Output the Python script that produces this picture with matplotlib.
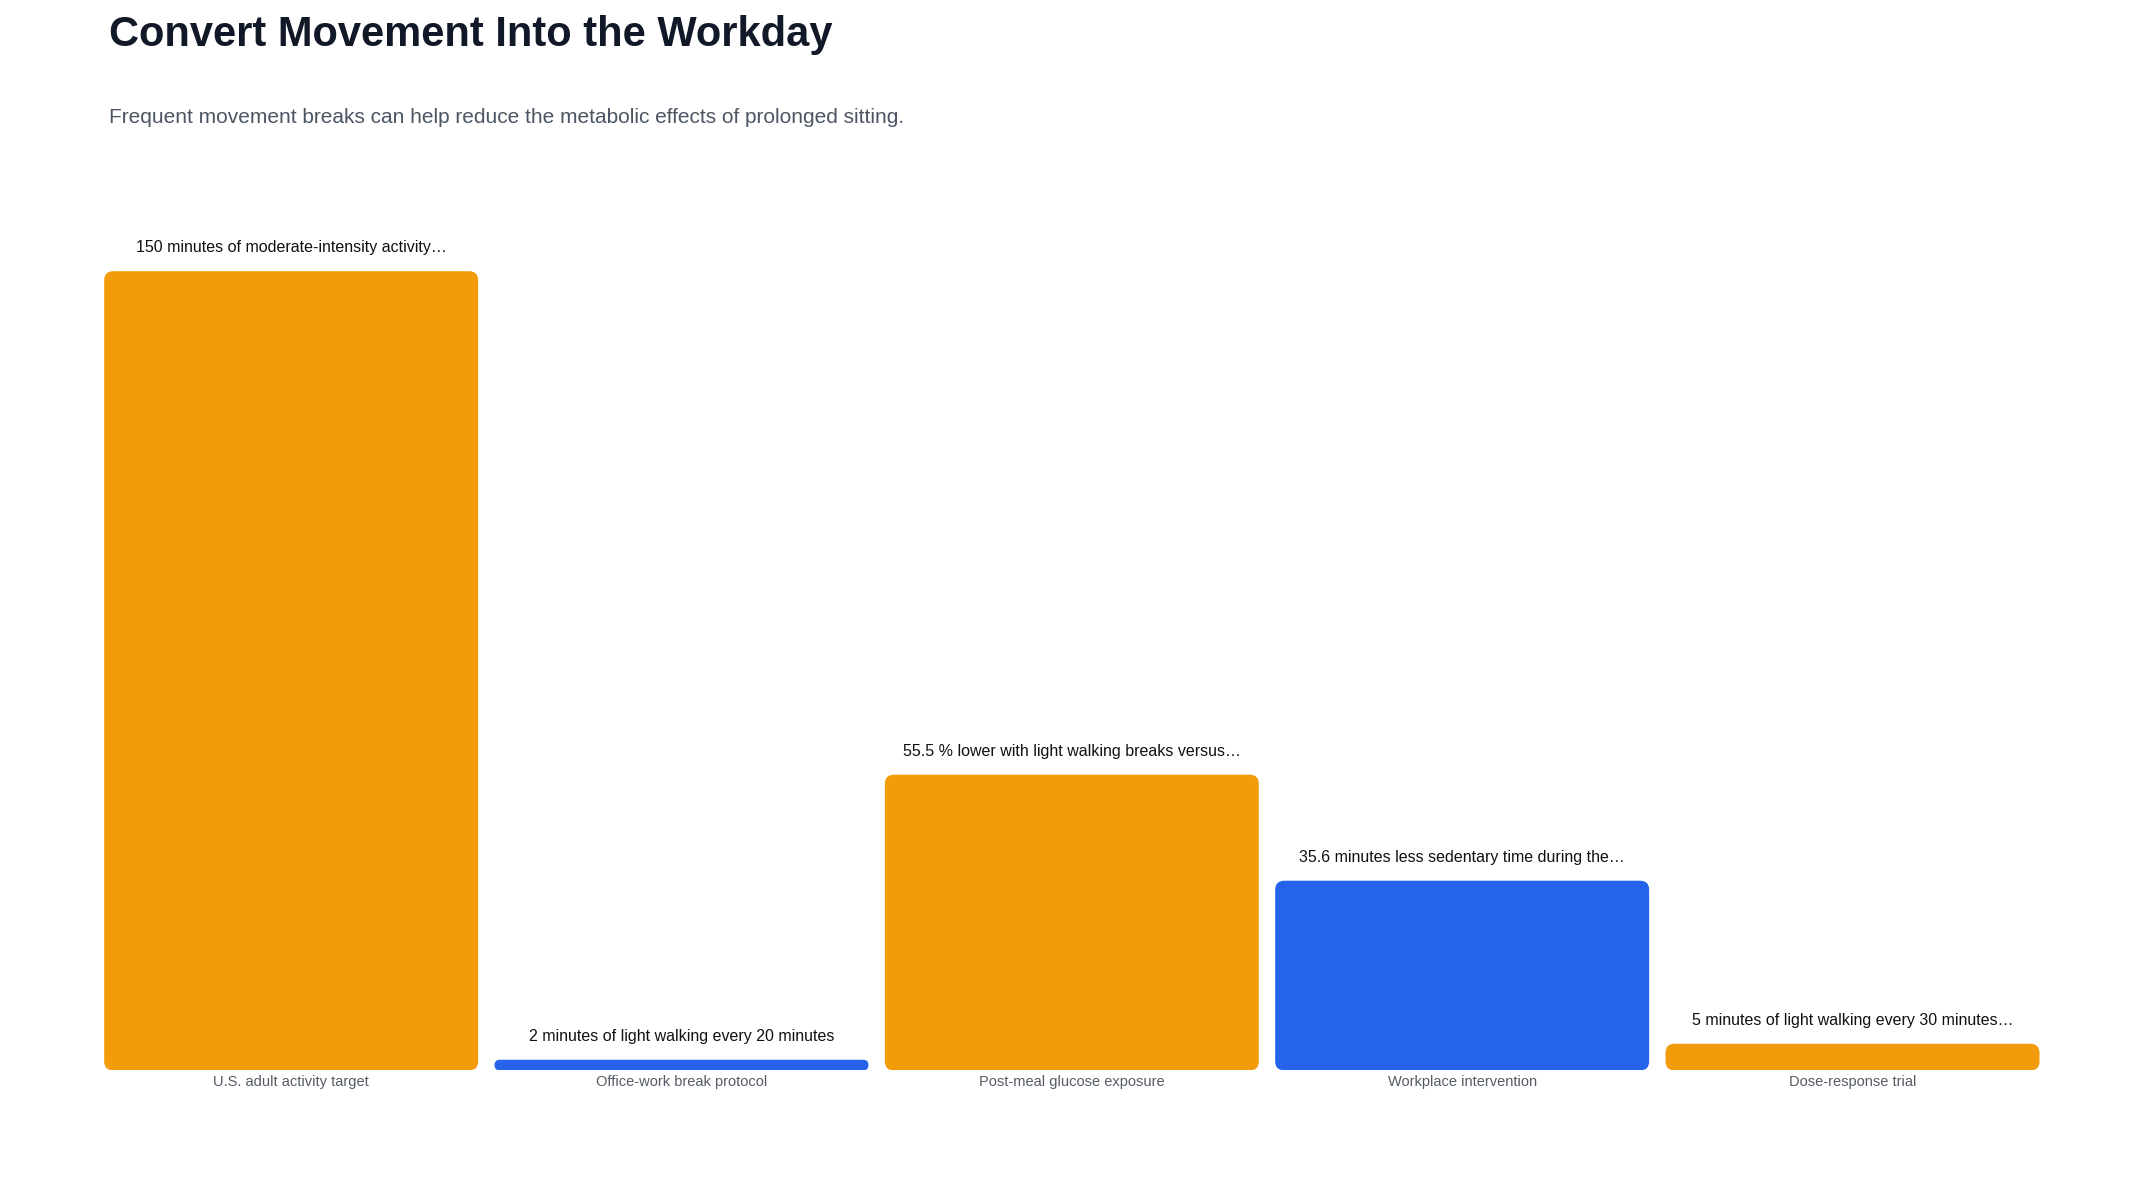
import matplotlib
matplotlib.use("Agg")
import matplotlib.pyplot as plt
from matplotlib.patches import FancyBboxPatch

categories = ["U.S. adult activity target", "Office-work break protocol", "Post-meal glucose exposure",
              "Workplace intervention", "Dose-response trial"]
values = [150, 2, 55.5, 35.6, 5]
annotations = ["150 minutes of moderate-intensity activity…",
               "2 minutes of light walking every 20 minutes",
               "55.5 % lower with light walking breaks versus…",
               "35.6 minutes less sedentary time during the…",
               "5 minutes of light walking every 30 minutes…"]
colors = ["#F39C0B", "#2563EB", "#F39C0B", "#2563EB", "#F39C0B"]

plt.rcParams['font.family'] = ['Liberation Sans', 'DejaVu Sans']
fig = plt.figure(figsize=(21.33, 12), dpi=100)
l, r, b, t = 0.045, 0.96, 0.108, 0.774
ax = fig.add_axes([l, b, r - l, t - b])
ax.set_xlim(-0.5, 4.5)
ax.set_ylim(0, 150)
ax.axis('off')

W, H = 2133, 1200
xpx = (r - l) * W / 5.0
ypx = (t - b) * H / 150.0
aspect = xpx / ypx
bw = 0.958
for i, (v, c) in enumerate(zip(values, colors)):
    hpx = v * ypx
    rad = min(9, hpx / 2) / xpx
    p = FancyBboxPatch((i - bw / 2, 0), bw, v, boxstyle=f"round,pad=0,rounding_size={rad}",
                       mutation_aspect=aspect, fc=c, ec='none')
    ax.add_patch(p)
    ax.annotate(annotations[i], (i, v), xytext=(0, 16), textcoords='offset pixels',
                ha='center', va='bottom', fontsize=11.5, color='#111111', annotation_clip=False)
    ax.annotate(categories[i], (i, 0), xytext=(0, -5), textcoords='offset pixels',
                ha='center', va='top', fontsize=10.5, color='#555b66', annotation_clip=False)

fig.text(0.051, 0.971, "Convert Movement Into the Workday", fontsize=30, fontweight='bold',
         color='#111827', va='center')
fig.text(0.051, 0.902, "Frequent movement breaks can help reduce the metabolic effects of prolonged sitting.",
         fontsize=15, color='#4b5563', va='center')
fig.savefig("out.png", dpi=100)
